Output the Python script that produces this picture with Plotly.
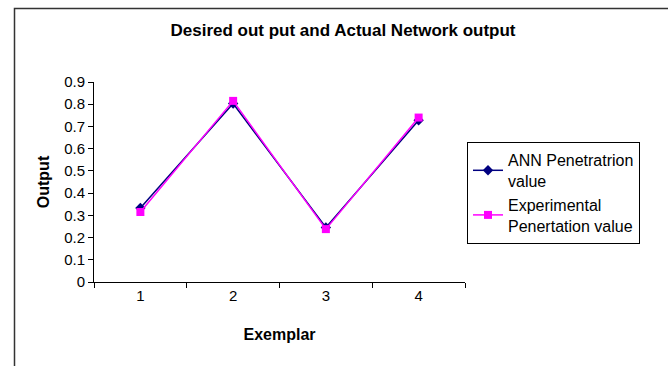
import plotly.graph_objects as go

exemplars = ["1", "2", "3", "4"]
ann_values = [0.333, 0.803, 0.245, 0.728]
exp_values = [0.315, 0.815, 0.238, 0.740]
y_ticks = [0, 0.1, 0.2, 0.3, 0.4, 0.5, 0.6, 0.7, 0.8, 0.9]
y_tick_labels = ["0", "0.1", "0.2", "0.3", "0.4", "0.5", "0.6", "0.7", "0.8", "0.9"]

FONT = "Liberation Sans, Arial, sans-serif"

fig = go.Figure()
fig.add_trace(go.Scatter(
    x=exemplars, y=ann_values, mode="lines+markers",
    name="ANN Penetratrion<br>value",
    line=dict(color="#000080", width=1.5),
    marker=dict(symbol="diamond", size=8, color="#000080"),
))
fig.add_trace(go.Scatter(
    x=exemplars, y=exp_values, mode="lines+markers",
    name="Experimental<br>Penertation value",
    line=dict(color="#FF00FF", width=1.5),
    marker=dict(symbol="square", size=8, color="#FF00FF"),
))

L, R, T, B = 94, 203, 82, 84
W, H = 668, 366
pw, ph = W - L - R, H - T - B

def px(x):
    return (x - L) / pw

def py(y):
    return (H - B - y) / ph

fig.update_layout(
    width=W, height=H,
    margin=dict(l=L, r=R, t=T, b=B, autoexpand=False),
    paper_bgcolor="white", plot_bgcolor="white",
    font=dict(family=FONT, size=15, color="black"),
    title=dict(
        text="<b>Desired out put and Actual Network output</b>",
        x=343 / W, xanchor="center", xref="container",
        y=1 - 30 / H, yanchor="middle",
        font=dict(family=FONT, size=17, color="black"),
    ),
    xaxis=dict(
        type="category", range=[-0.5, 3.5], automargin=False,
        tickson="boundaries", ticks="outside", ticklen=5, tickcolor="black",
        showline=True, linecolor="black", linewidth=1,
        showgrid=False, zeroline=False,
        tickfont=dict(family=FONT, size=15, color="black"),
        title=dict(text="<b>Exemplar</b>", font=dict(family=FONT, size=16, color="black"), standoff=25),
    ),
    yaxis=dict(
        range=[0, 0.9], tickvals=y_ticks, ticktext=y_tick_labels, automargin=False,
        ticks="outside", ticklen=5, tickcolor="black",
        showline=True, linecolor="black", linewidth=1,
        showgrid=False, zeroline=False,
        tickfont=dict(family=FONT, size=15, color="black"),
        title=dict(text="<b>Output</b>", font=dict(family=FONT, size=16, color="black"), standoff=10),
    ),
    legend=dict(
        x=px(467), y=py(142), xanchor="left", yanchor="top",
        bordercolor="black", borderwidth=1, bgcolor="white",
        font=dict(family=FONT, size=16, color="black"),
        tracegroupgap=0, itemwidth=30,
    ),
    shapes=[dict(
        type="rect", xref="paper", yref="paper",
        x0=px(14.5), x1=px(700), y0=py(400), y1=py(8.5),
        line=dict(color="#333333", width=1.5), fillcolor="rgba(0,0,0,0)", layer="below",
    )],
)

fig.write_html(
    "out.html",
    config={"displayModeBar": False},
    post_script="document.body.style.margin='0';document.body.style.padding='0';document.body.style.overflow='hidden';",
)
